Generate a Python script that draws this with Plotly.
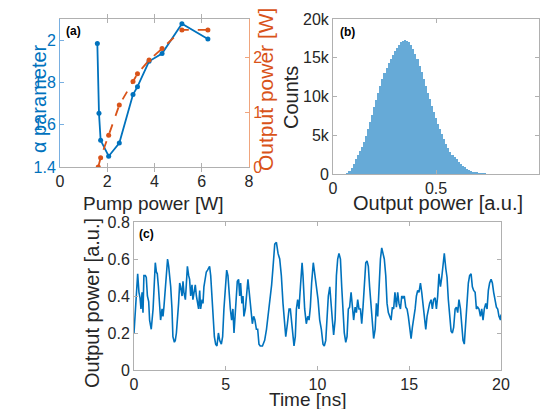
import plotly.graph_objects as go

# ---------------- data ----------------
# (a) alpha parameter vs pump power
pump_alpha = [1.58, 1.65, 1.72, 2.06, 2.51, 3.09, 3.28, 3.77, 4.32, 5.16, 6.26]
alpha_vals = [1.984, 1.654, 1.526, 1.451, 1.513, 1.743, 1.780, 1.900, 1.937, 2.078, 2.005]
# (a) output power vs pump power
pump_out = [1.62, 1.72, 2.06, 2.51, 3.09, 3.28, 3.77, 4.32, 5.16, 6.26]
out_power = [0.0, 0.17, 0.58, 1.13, 1.56, 1.70, 1.95, 2.16, 2.50, 2.50]

# (b) histogram of output power (bin centres, counts)
hist_x = [0.05, 0.06, 0.07, 0.08, 0.09, 0.10, 0.11, 0.12, 0.13, 0.14,
          0.15, 0.16, 0.17, 0.18, 0.19, 0.20, 0.21, 0.22, 0.23, 0.24,
          0.25, 0.26, 0.27, 0.28, 0.29, 0.30, 0.31, 0.32, 0.33, 0.34,
          0.35, 0.36, 0.37, 0.38, 0.39, 0.40, 0.41, 0.42, 0.43, 0.44,
          0.45, 0.46, 0.47, 0.48, 0.49, 0.50, 0.51, 0.52, 0.53, 0.54,
          0.55, 0.56, 0.57, 0.58, 0.59, 0.60, 0.61, 0.62, 0.63, 0.64,
          0.65, 0.66, 0.67, 0.68, 0.69, 0.70, 0.71, 0.72, 0.73, 0.74]
hist_counts = [0, 0, 100, 400, 800, 1300, 1900, 2500, 3000, 3500,
               4100, 4900, 5800, 6700, 7600, 8600, 9600, 10500, 11400, 12200,
               13000, 13700, 14300, 14900, 15400, 15900, 16300, 16700, 17000, 17200,
               17300, 17200, 17000, 16600, 16100, 15500, 14800, 14000, 13100, 12200,
               11300, 10500, 9700, 8800, 8000, 7200, 6500, 5800, 5100, 4500,
               3900, 3400, 2900, 2500, 2200, 1900, 1600, 1300, 1050, 850,
               650, 500, 380, 280, 200, 140, 90, 60, 30, 10]
count_ticks = [0, 5000, 10000, 15000, 20000]
count_tick_text = ["0", "5k", "10k", "15k", "20k"]

# (c) output power time trace
time_ns = [0.00, 0.09, 0.16, 0.20, 0.27, 0.33, 0.38, 0.44, 0.49, 0.54,
           0.62, 0.67, 0.73, 0.80, 0.85, 0.94, 1.04, 1.11, 1.16, 1.22,
           1.27, 1.33, 1.40, 1.45, 1.53, 1.58, 1.63, 1.71, 1.76, 1.83,
           1.89, 1.94, 2.00, 2.07, 2.12, 2.20, 2.25, 2.31, 2.36, 2.43,
           2.49, 2.54, 2.62, 2.67, 2.72, 2.80, 2.85, 2.91, 2.98, 3.03,
           3.09, 3.16, 3.21, 3.27, 3.34, 3.40, 3.45, 3.52, 3.58, 3.63,
           3.71, 3.76, 3.81, 3.89, 3.94, 4.01, 4.07, 4.12, 4.18, 4.23,
           4.30, 4.38, 4.45, 4.52, 4.60, 4.67, 4.76, 4.83, 4.90, 4.98,
           5.05, 5.12, 5.18, 5.25, 5.32, 5.39, 5.45, 5.50, 5.58, 5.63,
           5.70, 5.76, 5.81, 5.88, 5.94, 5.99, 6.07, 6.14, 6.21, 6.27,
           6.34, 6.39, 6.45, 6.52, 6.59, 6.67, 6.74, 6.81, 6.88, 7.00,
           7.12, 7.22, 7.32, 7.40, 7.50, 7.58, 7.67, 7.76, 7.85, 7.94,
           8.03, 8.12, 8.21, 8.27, 8.36, 8.45, 8.52, 8.59, 8.67, 8.72,
           8.79, 8.85, 8.92, 8.99, 9.07, 9.16, 9.21, 9.30, 9.39, 9.47,
           9.54, 9.61, 9.68, 9.77, 9.85, 9.94, 10.03, 10.12, 10.21, 10.30,
           10.37, 10.45, 10.52, 10.59, 10.67, 10.74, 10.81, 10.88, 10.96, 11.03,
           11.10, 11.17, 11.25, 11.32, 11.39, 11.46, 11.54, 11.61, 11.68, 11.75,
           11.83, 11.90, 11.97, 12.05, 12.12, 12.19, 12.26, 12.34, 12.41, 12.48,
           12.55, 12.63, 12.70, 12.77, 12.84, 12.92, 12.99, 13.06, 13.14, 13.21,
           13.28, 13.35, 13.43, 13.50, 13.57, 13.64, 13.72, 13.79, 13.86, 13.93,
           14.01, 14.08, 14.15, 14.22, 14.30, 14.37, 14.44, 14.52, 14.59, 14.66,
           14.73, 14.81, 14.88, 14.95, 15.02, 15.10, 15.17, 15.24, 15.32, 15.39,
           15.46, 15.53, 15.61, 15.68, 15.75, 15.82, 15.90, 15.97, 16.04, 16.11,
           16.19, 16.26, 16.33, 16.41, 16.48, 16.55, 16.62, 16.70, 16.77, 16.84,
           16.91, 16.99, 17.06, 17.13, 17.20, 17.28, 17.35, 17.42, 17.50, 17.57,
           17.64, 17.71, 17.79, 17.86, 17.93, 18.00, 18.08, 18.15, 18.22, 18.29,
           18.37, 18.44, 18.51, 18.59, 18.66, 18.73, 18.80, 18.88, 18.95, 19.02,
           19.09, 19.17, 19.24, 19.31, 19.38, 19.46, 19.53, 19.60, 19.67, 19.75,
           19.82, 19.89, 19.97, 20.00]
power_au = [0.20, 0.34, 0.45, 0.52, 0.42, 0.39, 0.33, 0.42, 0.31, 0.51,
            0.51, 0.50, 0.40, 0.37, 0.27, 0.22, 0.33, 0.51, 0.58, 0.53,
            0.52, 0.45, 0.36, 0.27, 0.33, 0.29, 0.34, 0.43, 0.51, 0.60,
            0.56, 0.52, 0.45, 0.33, 0.18, 0.15, 0.16, 0.20, 0.25, 0.36,
            0.47, 0.45, 0.40, 0.48, 0.42, 0.38, 0.46, 0.56, 0.51, 0.49,
            0.40, 0.46, 0.38, 0.42, 0.46, 0.40, 0.36, 0.33, 0.43, 0.33,
            0.38, 0.36, 0.45, 0.52, 0.53, 0.54, 0.55, 0.56, 0.51, 0.43,
            0.27, 0.18, 0.14, 0.13, 0.20, 0.16, 0.14, 0.18, 0.33, 0.45,
            0.54, 0.51, 0.40, 0.33, 0.27, 0.33, 0.20, 0.27, 0.38, 0.48,
            0.49, 0.40, 0.47, 0.36, 0.40, 0.29, 0.33, 0.40, 0.49, 0.43,
            0.34, 0.31, 0.25, 0.29, 0.27, 0.22, 0.22, 0.14, 0.13, 0.13,
            0.16, 0.22, 0.30, 0.38, 0.46, 0.56, 0.68, 0.69, 0.63, 0.60,
            0.51, 0.36, 0.25, 0.18, 0.25, 0.33, 0.33, 0.25, 0.16, 0.13,
            0.18, 0.33, 0.38, 0.33, 0.45, 0.58, 0.51, 0.33, 0.25, 0.29,
            0.27, 0.34, 0.47, 0.58, 0.52, 0.45, 0.38, 0.27, 0.22, 0.14,
            0.13, 0.16, 0.29, 0.40, 0.45, 0.33, 0.27, 0.19, 0.27, 0.51,
            0.60, 0.63, 0.60, 0.45, 0.33, 0.20, 0.15, 0.18, 0.33, 0.34,
            0.42, 0.36, 0.27, 0.34, 0.31, 0.38, 0.33, 0.33, 0.25, 0.34,
            0.47, 0.58, 0.59, 0.56, 0.45, 0.33, 0.25, 0.17, 0.22, 0.36,
            0.29, 0.47, 0.60, 0.66, 0.63, 0.60, 0.51, 0.36, 0.31, 0.29,
            0.27, 0.34, 0.33, 0.42, 0.34, 0.42, 0.36, 0.33, 0.40, 0.39,
            0.40, 0.34, 0.33, 0.29, 0.23, 0.17, 0.23, 0.27, 0.33, 0.40,
            0.43, 0.42, 0.47, 0.42, 0.36, 0.27, 0.22, 0.29, 0.33, 0.36,
            0.38, 0.33, 0.38, 0.39, 0.33, 0.40, 0.52, 0.45, 0.50, 0.58,
            0.63, 0.55, 0.50, 0.38, 0.28, 0.21, 0.20, 0.23, 0.33, 0.34,
            0.31, 0.38, 0.33, 0.25, 0.16, 0.14, 0.25, 0.38, 0.47, 0.51,
            0.52, 0.45, 0.43, 0.42, 0.33, 0.34, 0.33, 0.29, 0.33, 0.27,
            0.33, 0.36, 0.33, 0.43, 0.47, 0.49, 0.47, 0.42, 0.38, 0.34,
            0.33, 0.29, 0.27, 0.30]

# ---------------- styling ----------------
BLUE = "#0072BD"
ORANGE = "#D95319"
HIST = "rgb(102,170,215)"
FONT = "Liberation Sans, Arial, sans-serif"
TXT = "#262626"
BOX = "#b0b0b0"
W, H = 540, 409


def px(x):
    return x / W


def py(y):
    return 1 - y / H


fig = go.Figure()

# (a)
fig.add_trace(go.Scatter(x=pump_alpha, y=alpha_vals, mode="lines+markers",
                         line=dict(color=BLUE, width=1.8),
                         marker=dict(color=BLUE, size=5),
                         xaxis="x", yaxis="y", showlegend=False))
fig.add_trace(go.Scatter(x=pump_out, y=out_power, mode="lines+markers",
                         line=dict(color=ORANGE, width=1.8, dash="dash"),
                         marker=dict(color=ORANGE, size=5),
                         xaxis="x", yaxis="y2", showlegend=False))
# (b)
fig.add_trace(go.Bar(x=hist_x, y=hist_counts, width=0.0101,
                     marker=dict(color=HIST, line=dict(width=0)),
                     xaxis="x2", yaxis="y3", showlegend=False))
# (c)
fig.add_trace(go.Scatter(x=time_ns, y=power_au, mode="lines",
                         line=dict(color=BLUE, width=1.6),
                         xaxis="x3", yaxis="y4", showlegend=False))

tickfont = dict(family=FONT, size=16, color=TXT)
common = dict(showgrid=False, zeroline=False, ticks="inside", ticklen=4,
              tickcolor=BOX, linecolor=BOX, linewidth=1, showline=True,
              automargin=False, tickfont=tickfont)

dom_a_x = [px(60), px(249)]
dom_a_y = [py(167), py(19)]
dom_b_x = [px(333), px(539)]
dom_b_y = [py(174), py(19)]
dom_c_x = [px(134), px(501)]
dom_c_y = [py(370), py(222)]

fig.update_layout(
    width=W, height=H,
    margin=dict(l=0, r=0, t=0, b=0),
    paper_bgcolor="white", plot_bgcolor="white",
    font=dict(family=FONT, color=TXT),
    bargap=0,
    xaxis=dict(domain=dom_a_x, range=[0, 8], tickvals=[0, 2, 4, 6, 8],
               anchor="y", mirror="allticks", **common),
    yaxis=dict(domain=dom_a_y, range=[1.4, 2.1], tickvals=[1.4, 1.6, 1.8, 2.0],
               ticktext=["1.4", "1.6", "1.8", "2"], anchor="x",
               **{**common, "linecolor": "rgb(120,175,225)",
                  "tickcolor": "rgb(120,175,225)",
                  "tickfont": dict(family=FONT, size=16, color=BLUE)}),
    yaxis2=dict(domain=dom_a_y, range=[0, 2.7], tickvals=[0, 1, 2],
                overlaying="y", side="right", anchor="x",
                **{**common, "linecolor": "rgb(240,165,125)",
                   "tickcolor": "rgb(240,165,125)",
                   "tickfont": dict(family=FONT, size=16, color=ORANGE)}),
    xaxis2=dict(domain=dom_b_x, range=[0, 1], tickvals=[0, 0.5, 1],
                ticktext=["0", "0.5", "1"], anchor="y3", mirror="allticks", **common),
    yaxis3=dict(domain=dom_b_y, range=[0, 20000], tickvals=count_ticks,
                ticktext=count_tick_text, anchor="x2", mirror="allticks", **common),
    xaxis3=dict(domain=dom_c_x, range=[0, 20], tickvals=[0, 5, 10, 15, 20],
                anchor="y4", mirror="allticks", **common),
    yaxis4=dict(domain=dom_c_y, range=[0, 0.8], tickvals=[0, 0.2, 0.4, 0.6, 0.8],
                ticktext=["0", "0.2", "0.4", "0.6", "0.8"],
                anchor="x3", mirror="allticks", **common),
)

anns = [
    # panel labels
    dict(text="<b>(a)</b>", x=px(64), y=py(31), xanchor="left", yanchor="middle",
         font=dict(family=FONT, size=12, color="black")),
    dict(text="<b>(b)</b>", x=px(338), y=py(32), xanchor="left", yanchor="middle",
         font=dict(family=FONT, size=12, color="black")),
    dict(text="<b>(c)</b>", x=px(137), y=py(234), xanchor="left", yanchor="middle",
         font=dict(family=FONT, size=12, color="black")),
    # axis titles
    dict(text="α parameter", x=px(39), y=py(98), textangle=-90,
         font=dict(family=FONT, size=20, color=BLUE)),
    dict(text="Output power [W]", x=px(265), y=py(90), textangle=-90,
         font=dict(family=FONT, size=21, color=ORANGE)),
    dict(text="Pump power [W]", x=px(153), y=py(203),
         font=dict(family=FONT, size=19, color=TXT)),
    dict(text="Counts", x=px(291), y=py(98), textangle=-90,
         font=dict(family=FONT, size=20, color=TXT)),
    dict(text="Output power [a.u.]", x=px(438), y=py(203),
         font=dict(family=FONT, size=20, color=TXT)),
    dict(text="Output power [a.u.]", x=px(92), y=py(303), textangle=-90,
         font=dict(family=FONT, size=20, color=TXT)),
    dict(text="Time [ns]", x=px(307), y=py(399),
         font=dict(family=FONT, size=19, color=TXT)),
]
for a in anns:
    a.setdefault("xanchor", "center")
    a.setdefault("yanchor", "middle")
    a.update(xref="paper", yref="paper", showarrow=False)
fig.update_layout(annotations=anns)

fig.write_html("out.html",
               config={"displayModeBar": False},
               post_script="document.body.style.margin='0';"
                           "document.body.style.overflow='hidden';")
